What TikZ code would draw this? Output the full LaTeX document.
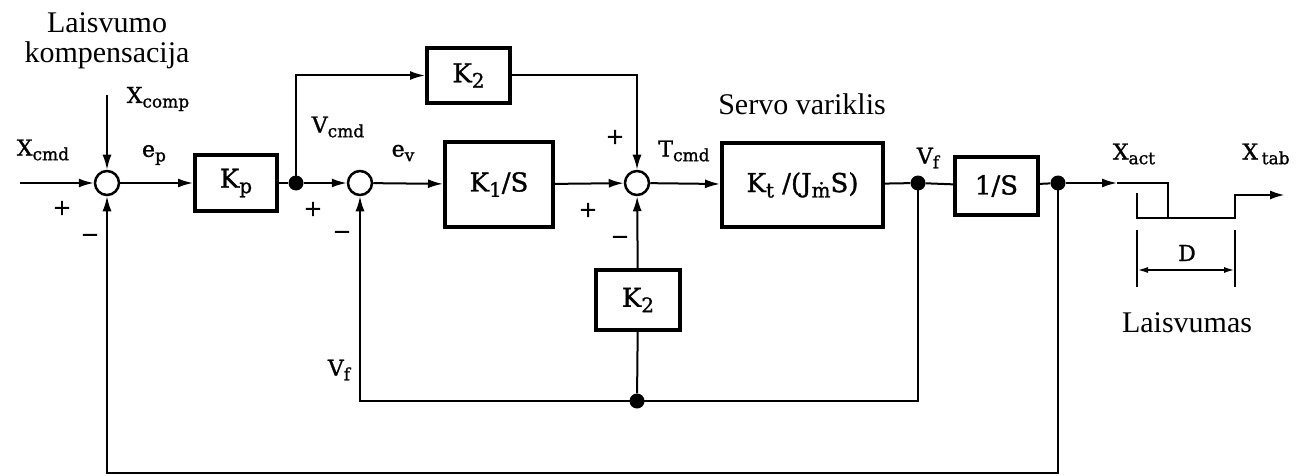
\documentclass[tikz,border=0pt]{standalone}
\usepackage{fontspec}
\setmainfont{Liberation Serif}
\newfontfamily\dfont[FakeBold=1.2]{DejaVu Serif}
\usetikzlibrary{arrows.meta}
\newcommand{\sbs}[1]{\raisebox{-0.4ex}{\fontsize{17}{17}\selectfont #1}}
\newcommand{\bsbs}[1]{\raisebox{-0.4ex}{\fontsize{20}{20}\selectfont #1}}
\tikzset{
  sig/.style={line width=2pt},
  arr/.style={sig,-{Latex[length=15pt,width=9pt]}},
  blk/.style={draw,line width=4pt,minimum width=#1,inner sep=0pt,font=\dfont\fontsize{26}{26}\selectfont},
  sumc/.style={draw,circle,line width=2.5pt,minimum size=24pt,inner sep=0pt,fill=white},
  dotn/.style={circle,fill=black,minimum size=15pt,inner sep=0pt},
  lbl/.style={font=\dfont\fontsize{22}{22}\selectfont,inner sep=0pt},
  sgn/.style={font=\dfont\fontsize{22}{22}\selectfont,inner sep=0pt},
  big/.style={font=\fontsize{30}{30}\selectfont,inner sep=0pt}
}
\begin{document}
\begin{tikzpicture}[x=1pt,y=-1pt]
\useasboundingbox (0,0) rectangle (1309,476);
% nodes
\node[sumc] (s1) at (107,183) {};
\node[blk=82pt,minimum height=55pt] (kp) at (236,183) {K\bsbs{p}};
\node[dotn] (d1) at (296,183) {};
\node[sumc] (s2) at (360,183) {};
\node[blk=108pt,minimum height=85pt] (k1) at (499,184.5) {K\bsbs{1}/S};
\node[blk=83pt,minimum height=55pt] (k2t) at (468.5,75.5) {K\bsbs{2}};
\node[sumc] (s3) at (637,183) {};
\node[blk=161pt,minimum height=84pt] (kt) at (802.5,185) {K\bsbs{t} /(J\bsbs{ṁ}S)};
\node[dotn] (d2) at (918,183) {};
\node[blk=83pt,minimum height=58pt] (is) at (996.5,186) {1/S};
\node[dotn] (d3) at (1058,183) {};
\node[blk=84pt,minimum height=60pt] (k2b) at (638,300) {K\bsbs{2}};
\node[dotn] (d4) at (637,401) {};
% free ends
\coordinate (xin) at (20,183);
\coordinate (xc) at (107,95);
\coordinate (xa) at (1117,183);
% forward path
\draw[arr] (xin) -- (s1);
\draw[arr] (xc) -- (s1);
\draw[arr] (s1) -- (kp);
\draw[sig] (kp) -- (d1);
\draw[arr] (d1) -- (s2);
\draw[arr] (s2) -- (k1);
\draw[arr] (k1) -- (s3);
\draw[arr] (d1.center) |- (k2t);
\draw[arr] (k2t) -| (s3);
\draw[arr] (s3) -- (kt);
\draw[sig] (kt) -- (d2);
\draw[sig] (d2) -- (is);
\draw[sig] (is) -- (d3);
\draw[arr] (d3) -- (xa);
% feedback
\draw[arr] (d2.center) |- (d4.center) -| (s2);
\draw[sig] (d4) -- (k2b);
\draw[arr] (k2b) -- (s3);
\draw[arr] (d3.center) -- (1058,473) -| (s1);
% backlash
\draw[line width=2.5pt] (xa) -- (1168,183) -- (1168,218);
\draw[line width=2.5pt,-{Latex[length=15pt,width=9pt]}] (1137,193) -- (1137,218) -- (1235,218) -- (1235,195) -- (1285,195);
\draw[line width=2pt] (1137,230) -- (1137,287) (1235,230) -- (1235,287);
\draw[line width=2pt,{Latex[length=11pt,width=6pt]}-{Latex[length=11pt,width=6pt]}] (1137,270) -- (1235,270);
\node[lbl] at (1187,253) {D};
% labels
\node[lbl] at (43,150) {X\sbs{cmd}};
\node[lbl] at (158,99) {X\sbs{comp}};
\node[lbl] at (154,155) {e\sbs{p}};
\node[lbl] at (338,127) {V\sbs{cmd}};
\node[lbl] at (403,153) {e\sbs{v}};
\node[lbl] at (684,151) {T\sbs{cmd}};
\node[lbl] at (928,158) {V\sbs{f}};
\node[lbl] at (339,370) {V\sbs{f}};
\node[lbl] at (1134,154) {X\sbs{act}};
\node[lbl] at (1266,154) {X\,\sbs{tab}};
\node[sgn] at (62,208) {+};
\node[sgn] at (90,238) {\textminus};
\node[sgn] at (313,209) {+};
\node[sgn] at (342,235) {\textminus};
\node[sgn] at (615,137) {+};
\node[sgn] at (588,210) {+};
\node[sgn] at (620,240) {\textminus};
\node[big,align=center] at (107,41) {Laisvumo\\kompensacija};
\node[big,anchor=base] at (802,115) {Servo variklis};
\node[big,anchor=base] at (1187,332) {Laisvumas};
\end{tikzpicture}
\end{document}
